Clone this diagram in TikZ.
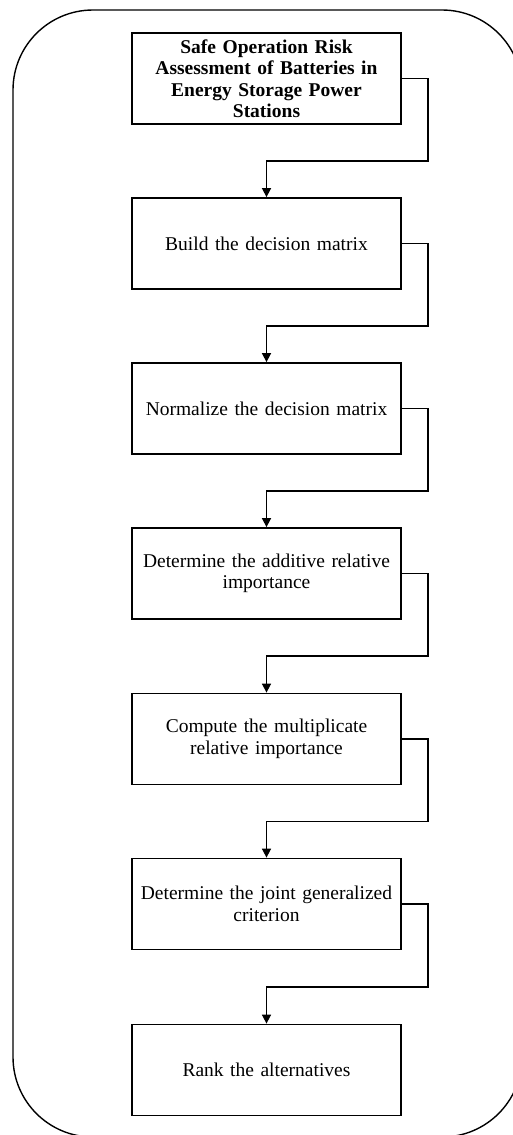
\documentclass[tikz,border=0pt]{standalone}
\usepackage{fontspec}
\setmainfont{Liberation Serif}
\usetikzlibrary{calc,arrows.meta}
\begin{document}
\begin{tikzpicture}[x=1pt,y=-1pt,
  stepbox/.style={draw=black,line width=1.8pt,minimum width=269pt,minimum height=91pt,
    text width=262pt,align=center,inner sep=0pt,font=\fontsize{19.5}{21.5}\selectfont},
  conn/.style={line width=1.6pt,-{Triangle[length=9pt,width=9pt]}},
  frame/.style={draw=black,line width=1.4pt,rounded corners=80pt}]
\useasboundingbox (0,0) rectangle (513,1135);
\draw[frame] (13,10) rectangle (522,1137);
\node[stepbox] (b1) at (266.5,78.5) {\textbf{Safe Operation Risk\\Assessment of Batteries in\\Energy Storage Power\\Stations}};
\node[stepbox] (b2) at (266.5,243.5) {Build the decision matrix};
\node[stepbox] (b3) at (266.5,408.5) {Normalize the decision matrix};
\node[stepbox] (b4) at (266.5,573.5) {Determine the additive relative\\importance};
\node[stepbox] (b5) at (266.5,739) {Compute the multiplicate\\relative importance};
\node[stepbox] (b6) at (266.5,904) {Determine the joint generalized\\criterion};
\node[stepbox] (b7) at (266.5,1070) {Rank the alternatives};
\foreach \a/\b in {b1/b2,b2/b3,b3/b4,b4/b5,b5/b6,b6/b7}{
  \draw[conn] (\a.east) -- ($(\a.east)+(26,0)$) |- ($(\a.south)!0.5!(\b.north)$) -- (\b.north);
}
\end{tikzpicture}
\end{document}
